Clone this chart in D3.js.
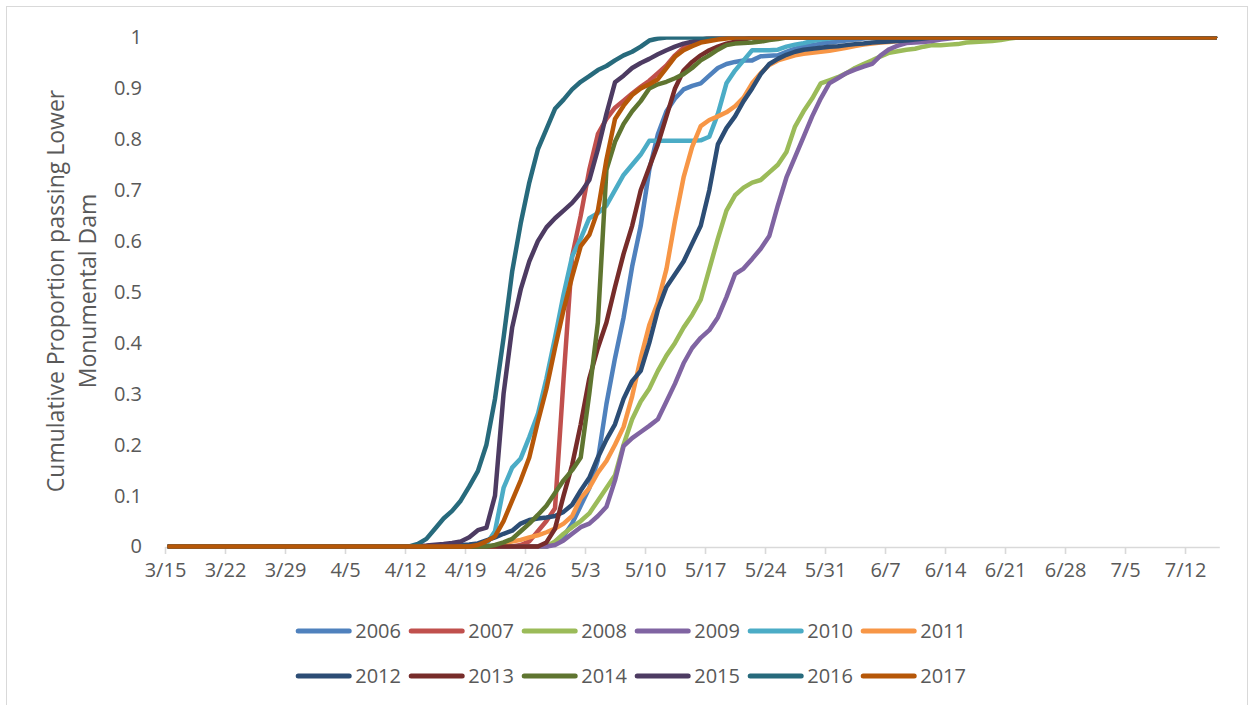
<!DOCTYPE html>
<html><head><meta charset="utf-8">
<script src="https://cdn.jsdelivr.net/npm/d3@7"></script>
<style>
html,body{margin:0;padding:0;background:#fff;}
svg{display:block;}
</style></head><body>
<svg id="chart" width="1249" height="705"></svg>
<script>
// ---- data ----
const xTickLabels = ["3/15","3/22","3/29","4/5","4/12","4/19","4/26","5/3","5/10","5/17","5/24","5/31","6/7","6/14","6/21","6/28","7/5","7/12"];
const yTicks = [0, 0.1, 0.2, 0.3, 0.4, 0.5, 0.6, 0.7, 0.8, 0.9, 1];
const years = ["2006","2007","2008","2009","2010","2011","2012","2013","2014","2015","2016","2017"];
const yAxisTitle = ["Cumulative Proportion passing Lower", "Monumental Dam"];

const s2006 = [["3/15",0],["4/28",0],["4/29",0.005],["4/30",0.02],["5/1",0.045],["5/2",0.08],["5/3",0.115],["5/4",0.17],["5/5",0.28],["5/6",0.37],["5/7",0.45],["5/8",0.55],["5/9",0.63],["5/10",0.74],["5/11",0.81],["5/12",0.855],["5/13",0.88],["5/14",0.898],["5/15",0.905],["5/16",0.91],["5/17",0.925],["5/18",0.94],["5/19",0.948],["5/20",0.952],["5/21",0.955],["5/22",0.955],["5/23",0.963],["5/24",0.964],["5/25",0.965],["5/26",0.972],["5/27",0.978],["5/28",0.982],["5/29",0.985],["5/30",0.988],["5/31",0.99],["6/1",0.992],["6/2",0.994],["6/3",0.996],["6/4",0.998],["6/5",1],["7/15",1]];
const s2007 = [["3/15",0],["4/24",0],["4/25",0.003],["4/26",0.01],["4/27",0.03],["4/28",0.05],["4/29",0.075],["4/30",0.33],["5/1",0.57],["5/2",0.65],["5/3",0.74],["5/4",0.81],["5/5",0.84],["5/6",0.862],["5/7",0.876],["5/8",0.89],["5/9",0.903],["5/10",0.915],["5/11",0.93],["5/12",0.945],["5/13",0.965],["5/14",0.98],["5/15",0.99],["5/16",0.995],["5/17",1],["7/15",1]];
const s2008 = [["3/15",0],["4/28",0],["4/29",0.01],["4/30",0.025],["5/1",0.038],["5/2",0.05],["5/3",0.065],["5/4",0.09],["5/5",0.115],["5/6",0.14],["5/7",0.2],["5/8",0.25],["5/9",0.285],["5/10",0.31],["5/11",0.345],["5/12",0.375],["5/13",0.4],["5/14",0.43],["5/15",0.455],["5/16",0.485],["5/17",0.545],["5/18",0.605],["5/19",0.66],["5/20",0.69],["5/21",0.705],["5/22",0.715],["5/23",0.72],["5/24",0.735],["5/25",0.75],["5/26",0.775],["5/27",0.825],["5/28",0.855],["5/29",0.88],["5/30",0.91],["5/31",0.916],["6/1",0.922],["6/2",0.93],["6/3",0.94],["6/4",0.948],["6/5",0.955],["6/6",0.963],["6/7",0.97],["6/8",0.973],["6/9",0.976],["6/10",0.978],["6/11",0.982],["6/12",0.985],["6/13",0.985],["6/14",0.986],["6/15",0.987],["6/16",0.99],["6/17",0.991],["6/18",0.992],["6/19",0.993],["6/20",0.995],["6/21",0.998],["6/22",1],["7/15",1]];
const s2009 = [["3/15",0],["4/28",0],["4/29",0.003],["4/30",0.012],["5/1",0.025],["5/2",0.038],["5/3",0.045],["5/4",0.06],["5/5",0.078],["5/6",0.13],["5/7",0.197],["5/8",0.213],["5/9",0.225],["5/10",0.237],["5/11",0.25],["5/12",0.285],["5/13",0.32],["5/14",0.36],["5/15",0.39],["5/16",0.41],["5/17",0.425],["5/18",0.45],["5/19",0.49],["5/20",0.535],["5/21",0.546],["5/22",0.565],["5/23",0.585],["5/24",0.61],["5/25",0.67],["5/26",0.725],["5/27",0.765],["5/28",0.805],["5/29",0.845],["5/30",0.88],["5/31",0.91],["6/1",0.92],["6/2",0.93],["6/3",0.937],["6/4",0.943],["6/5",0.948],["6/6",0.965],["6/7",0.977],["6/8",0.984],["6/9",0.989],["6/10",0.99],["6/11",0.991],["6/12",0.993],["6/13",0.996],["6/14",0.998],["6/15",1],["7/15",1]];
const s2010 = [["3/15",0],["4/20",0],["4/21",0.005],["4/22",0.03],["4/23",0.115],["4/24",0.155],["4/25",0.173],["4/26",0.215],["4/27",0.26],["4/28",0.33],["4/29",0.41],["4/30",0.495],["5/1",0.57],["5/2",0.605],["5/3",0.645],["5/4",0.655],["5/5",0.67],["5/6",0.7],["5/7",0.73],["5/8",0.75],["5/9",0.77],["5/10",0.797],["5/11",0.797],["5/12",0.797],["5/13",0.797],["5/14",0.797],["5/15",0.797],["5/16",0.798],["5/17",0.805],["5/18",0.85],["5/19",0.91],["5/20",0.935],["5/21",0.955],["5/22",0.975],["5/23",0.975],["5/24",0.975],["5/25",0.976],["5/26",0.982],["5/27",0.986],["5/28",0.989],["5/29",0.993],["5/30",0.996],["5/31",0.998],["6/1",1],["7/15",1]];
const s2011 = [["3/15",0],["4/22",0],["4/23",0.005],["4/24",0.01],["4/25",0.013],["4/26",0.018],["4/27",0.022],["4/28",0.028],["4/29",0.035],["4/30",0.045],["5/1",0.06],["5/2",0.095],["5/3",0.115],["5/4",0.145],["5/5",0.168],["5/6",0.2],["5/7",0.235],["5/8",0.295],["5/9",0.37],["5/10",0.435],["5/11",0.48],["5/12",0.545],["5/13",0.64],["5/14",0.725],["5/15",0.785],["5/16",0.826],["5/17",0.838],["5/18",0.845],["5/19",0.853],["5/20",0.865],["5/21",0.882],["5/22",0.91],["5/23",0.93],["5/24",0.946],["5/25",0.955],["5/26",0.96],["5/27",0.965],["5/28",0.968],["5/29",0.97],["5/30",0.972],["5/31",0.974],["6/1",0.977],["6/2",0.98],["6/3",0.983],["6/4",0.986],["6/5",0.988],["6/6",0.99],["6/7",0.991],["6/8",0.993],["6/9",0.995],["6/10",0.997],["6/11",1],["7/15",1]];
const s2012 = [["3/15",0],["4/16",0],["4/17",0.002],["4/18",0.003],["4/19",0.004],["4/20",0.006],["4/21",0.012],["4/22",0.018],["4/23",0.025],["4/24",0.031],["4/25",0.045],["4/26",0.052],["4/27",0.055],["4/28",0.057],["4/29",0.06],["4/30",0.068],["5/1",0.082],["5/2",0.11],["5/3",0.135],["5/4",0.175],["5/5",0.21],["5/6",0.24],["5/7",0.29],["5/8",0.325],["5/9",0.345],["5/10",0.4],["5/11",0.465],["5/12",0.51],["5/13",0.535],["5/14",0.56],["5/15",0.595],["5/16",0.63],["5/17",0.7],["5/18",0.79],["5/19",0.822],["5/20",0.845],["5/21",0.875],["5/22",0.9],["5/23",0.928],["5/24",0.948],["5/25",0.958],["5/26",0.966],["5/27",0.972],["5/28",0.976],["5/29",0.978],["5/30",0.98],["5/31",0.982],["6/1",0.983],["6/2",0.985],["6/3",0.987],["6/4",0.988],["6/5",0.99],["6/6",0.991],["6/7",0.992],["6/8",0.993],["6/9",0.994],["6/10",0.996],["6/11",0.998],["6/12",1],["7/15",1]];
const s2013 = [["3/15",0],["4/27",0],["4/28",0.008],["4/29",0.035],["4/30",0.1],["5/1",0.16],["5/2",0.24],["5/3",0.33],["5/4",0.39],["5/5",0.44],["5/6",0.51],["5/7",0.575],["5/8",0.63],["5/9",0.7],["5/10",0.745],["5/11",0.79],["5/12",0.845],["5/13",0.9],["5/14",0.935],["5/15",0.952],["5/16",0.965],["5/17",0.975],["5/18",0.982],["5/19",0.988],["5/20",0.992],["5/21",0.996],["5/22",1],["7/15",1]];
const s2014 = [["3/15",0],["4/21",0],["4/22",0.003],["4/23",0.008],["4/24",0.015],["4/25",0.03],["4/26",0.045],["4/27",0.062],["4/28",0.08],["4/29",0.105],["4/30",0.13],["5/1",0.15],["5/2",0.175],["5/3",0.3],["5/4",0.44],["5/5",0.74],["5/6",0.795],["5/7",0.83],["5/8",0.855],["5/9",0.875],["5/10",0.9],["5/11",0.908],["5/12",0.913],["5/13",0.92],["5/14",0.928],["5/15",0.94],["5/16",0.955],["5/17",0.965],["5/18",0.976],["5/19",0.985],["5/20",0.988],["5/21",0.989],["5/22",0.99],["5/23",0.992],["5/24",0.995],["5/25",0.997],["5/26",1],["7/15",1]];
const s2015 = [["3/15",0],["4/12",0],["4/14",0.002],["4/16",0.005],["4/17",0.007],["4/18",0.01],["4/19",0.018],["4/20",0.032],["4/21",0.037],["4/22",0.1],["4/23",0.3],["4/24",0.43],["4/25",0.505],["4/26",0.56],["4/27",0.6],["4/28",0.627],["4/29",0.645],["4/30",0.66],["5/1",0.675],["5/2",0.695],["5/3",0.72],["5/4",0.78],["5/5",0.85],["5/6",0.912],["5/7",0.925],["5/8",0.94],["5/9",0.95],["5/10",0.958],["5/11",0.967],["5/12",0.975],["5/13",0.982],["5/14",0.988],["5/15",0.992],["5/16",0.996],["5/17",0.998],["5/18",1],["7/15",1]];
const s2016 = [["3/15",0],["4/12",0],["4/13",0.005],["4/14",0.015],["4/15",0.035],["4/16",0.055],["4/17",0.07],["4/18",0.09],["4/19",0.118],["4/20",0.148],["4/21",0.2],["4/22",0.29],["4/23",0.41],["4/24",0.54],["4/25",0.635],["4/26",0.715],["4/27",0.78],["4/28",0.82],["4/29",0.86],["4/30",0.878],["5/1",0.898],["5/2",0.913],["5/3",0.924],["5/4",0.936],["5/5",0.944],["5/6",0.955],["5/7",0.965],["5/8",0.972],["5/9",0.982],["5/10",0.994],["5/11",0.998],["5/12",1],["7/15",1]];
const s2017 = [["3/15",0],["4/19",0],["4/20",0.003],["4/21",0.01],["4/22",0.02],["4/23",0.05],["4/24",0.09],["4/25",0.13],["4/26",0.175],["4/27",0.245],["4/28",0.31],["4/29",0.39],["4/30",0.465],["5/1",0.53],["5/2",0.59],["5/3",0.612],["5/4",0.66],["5/5",0.76],["5/6",0.84],["5/7",0.866],["5/8",0.887],["5/9",0.9],["5/10",0.908],["5/11",0.918],["5/12",0.94],["5/13",0.962],["5/14",0.975],["5/15",0.983],["5/16",0.99],["5/17",0.993],["5/18",0.996],["5/19",0.998],["5/20",1],["7/15",1]];

const seriesValues = [s2006,s2007,s2008,s2009,s2010,s2011,s2012,s2013,s2014,s2015,s2016,s2017];

// ---- styles ----
const colors = ["#4F81BD","#C0504D","#9BBB59","#8064A2","#4BACC6","#F79646","#2C4D75","#772C2A","#5F7530","#4D3B62","#276A7C","#B65708"];
const FONT = "'Open Sans', sans-serif";
const TXT = "#595959";
const GRID = "#d9d9d9";

// ---- chart ----
const svg = d3.select("#chart");
svg.append("rect").attr("x",6.5).attr("y",6.5).attr("width",1241).attr("height",710)
  .attr("fill","#fff").attr("stroke",GRID).attr("stroke-width",1);

const parse = s => { const [m,d] = s.split("/").map(Number); return new Date(Date.UTC(2017,m-1,d)); };
const HALF_DAY = 12*3600*1000;

const x = d3.scaleUtc()
  .domain([new Date(Date.UTC(2017,2,15)), new Date(Date.UTC(2017,6,16))])
  .range([165, 1219.3]);
const y = d3.scaleLinear().domain([0,1]).range([546.5, 37.5]);

// x axis
const gx = svg.append("g").attr("transform","translate(0,547)")
  .call(d3.axisBottom(x)
    .tickValues(xTickLabels.map(parse))
    .tickFormat((d,i) => xTickLabels[i])
    .tickSize(7).tickSizeOuter(0).tickPadding(9));
gx.select(".domain").attr("stroke",GRID).attr("stroke-width",1.6);
gx.selectAll(".tick line").attr("stroke",GRID).attr("stroke-width",1.6);
gx.selectAll(".tick text").attr("fill",TXT).style("font-family",FONT).style("font-size","20px");

// y axis
const gy = svg.append("g").attr("transform","translate(165,0)")
  .call(d3.axisLeft(y).tickValues(yTicks).tickFormat(d3.format("~g")).tickSize(0).tickPadding(23));
gy.select(".domain").remove();
gy.selectAll(".tick text").attr("fill",TXT).style("font-family",FONT).style("font-size","20px");

// y axis title
const title = svg.append("g").attr("transform","translate(0,291) rotate(-90)");
title.selectAll("text").data(yAxisTitle).join("text")
  .attr("x",0).attr("y",(d,i)=> i===0 ? 64 : 96)
  .attr("text-anchor","middle")
  .attr("fill",TXT).style("font-family",FONT).style("font-size","23px")
  .text(d=>d);

// clip
svg.append("clipPath").attr("id","plotclip").append("rect")
  .attr("x",0).attr("y",36.5).attr("width",1249).attr("height",560);

const line = d3.line()
  .x(d => x(new Date(parse(d[0]).getTime() + HALF_DAY)))
  .y(d => y(d[1]));

svg.append("g").attr("clip-path","url(#plotclip)")
  .selectAll("path").data(seriesValues).join("path")
  .attr("d", line)
  .attr("fill","none")
  .attr("stroke",(d,i)=>colors[i])
  .attr("stroke-width",4.5)
  .attr("stroke-linejoin","round")
  .attr("stroke-linecap","round");

// legend
const leg = svg.append("g");
const items = leg.selectAll("g").data(years).join("g")
  .attr("transform",(d,i)=>`translate(${295.7 + (i%6)*113},${631 + Math.floor(i/6)*45})`);
items.append("line").attr("x1",2.5).attr("x2",53.5).attr("y1",0).attr("y2",0)
  .attr("stroke",(d,i)=>colors[i]).attr("stroke-width",5).attr("stroke-linecap","round");
items.append("text").attr("x",59.5).attr("y",7)
  .attr("fill",TXT).style("font-family",FONT).style("font-size","20px")
  .text(d=>d);
</script>
</body></html>
